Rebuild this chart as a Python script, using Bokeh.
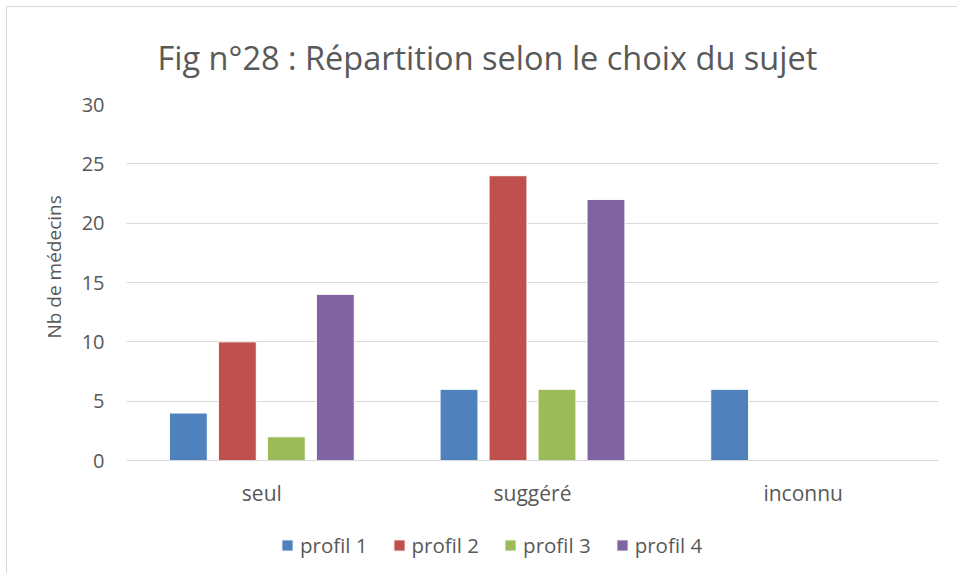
from bokeh.plotting import figure
from bokeh.models import (ColumnDataSource, FactorRange, Legend, LegendItem, Range1d,
                          FixedTicker, Title)
from bokeh.transform import dodge
from bokeh.embed import file_html
from bokeh.resources import INLINE

categories = ["seul", "suggéré", "inconnu"]
series_names = ["profil 1", "profil 2", "profil 3", "profil 4"]
profil1 = [4, 6, 6]
profil2 = [10, 24, 0]
profil3 = [2, 6, 0]
profil4 = [14, 22, 0]
y_ticks = [0, 5, 10, 15, 20, 25, 30]
colors = ["#4F81BD", "#C0504D", "#9BBB59", "#8064A2"]

FONT = "Open Sans"
TXT = "#595959"

# frame: value axis 0..30 uses 356 px; the frame extends below to hold the legend
PLOT_H = 356
FRAME_H = 463
y_top = 30
y_bottom = -(FRAME_H - PLOT_H) / PLOT_H * y_top

src = ColumnDataSource(dict(cat=categories, p1=profil1, p2=profil2, p3=profil3, p4=profil4))

p = figure(x_range=FactorRange(*categories), y_range=Range1d(y_bottom, y_top),
           frame_width=812, frame_height=FRAME_H, output_backend="svg", toolbar_location=None,
           min_border_left=119, min_border_right=19, min_border_top=97, min_border_bottom=6)

p.title.text = "Fig n°28 : Répartition selon le choix du sujet"
p.title.text_font = FONT
p.title.text_font_size = "32.5px"
p.title.text_font_style = "normal"
p.title.text_color = TXT
p.title.align = "left"
p.title.offset = 31
p.title.standoff = 50

offsets = [-0.2715, -0.0905, 0.0905, 0.2715]
keys = ["p1", "p2", "p3", "p4"]
renderers = []
for k, off, c in zip(keys, offsets, colors):
    r = p.vbar(x=dodge("cat", off, range=p.x_range), top=k, width=0.14, source=src,
               fill_color=c, line_color="white", line_width=1)
    renderers.append(r)

p.outline_line_color = None
p.xgrid.grid_line_color = None
p.ygrid.grid_line_color = "#d9d9d9"
p.ygrid.grid_line_width = 1
p.yaxis.ticker = FixedTicker(ticks=y_ticks)
for ax in (p.xaxis, p.yaxis):
    ax.axis_line_color = None
    ax.major_tick_line_color = None
    ax.minor_tick_line_color = None
    ax.major_tick_out = 0
    ax.major_tick_in = 0
    ax.minor_tick_out = 0
    ax.major_label_text_font = FONT
    ax.major_label_text_color = TXT
p.yaxis.major_label_text_font_size = "20px"
p.xaxis.major_label_text_font_size = "21px"
p.xaxis.axis_line_color = "#d9d9d9"
p.xaxis.fixed_location = 0
p.yaxis.major_label_standoff = 22
p.xaxis.major_label_standoff = 18

ylab = Title(text="Nb de médecins", text_font=FONT, text_font_size="19px",
             text_font_style="normal", text_color=TXT, align="left", offset=229, standoff=24)
p.add_layout(ylab, "left")

legend = Legend(items=[LegendItem(label=n, renderers=[r]) for n, r in zip(series_names, renderers)],
                orientation="horizontal", location=(154, 8),
                label_text_font=FONT, label_text_font_size="20.5px", label_text_color=TXT,
                glyph_width=14, glyph_height=14, spacing=24, label_standoff=6,
                border_line_color=None, background_fill_alpha=0, margin=0, padding=0)
p.add_layout(legend, "center")

p.styles = {"border-left": "1px solid #d9d9d9", "border-top": "1px solid #d9d9d9",
            "margin": "6px 0 0 6px"}

open("out.html", "w").write(file_html(p, INLINE))
